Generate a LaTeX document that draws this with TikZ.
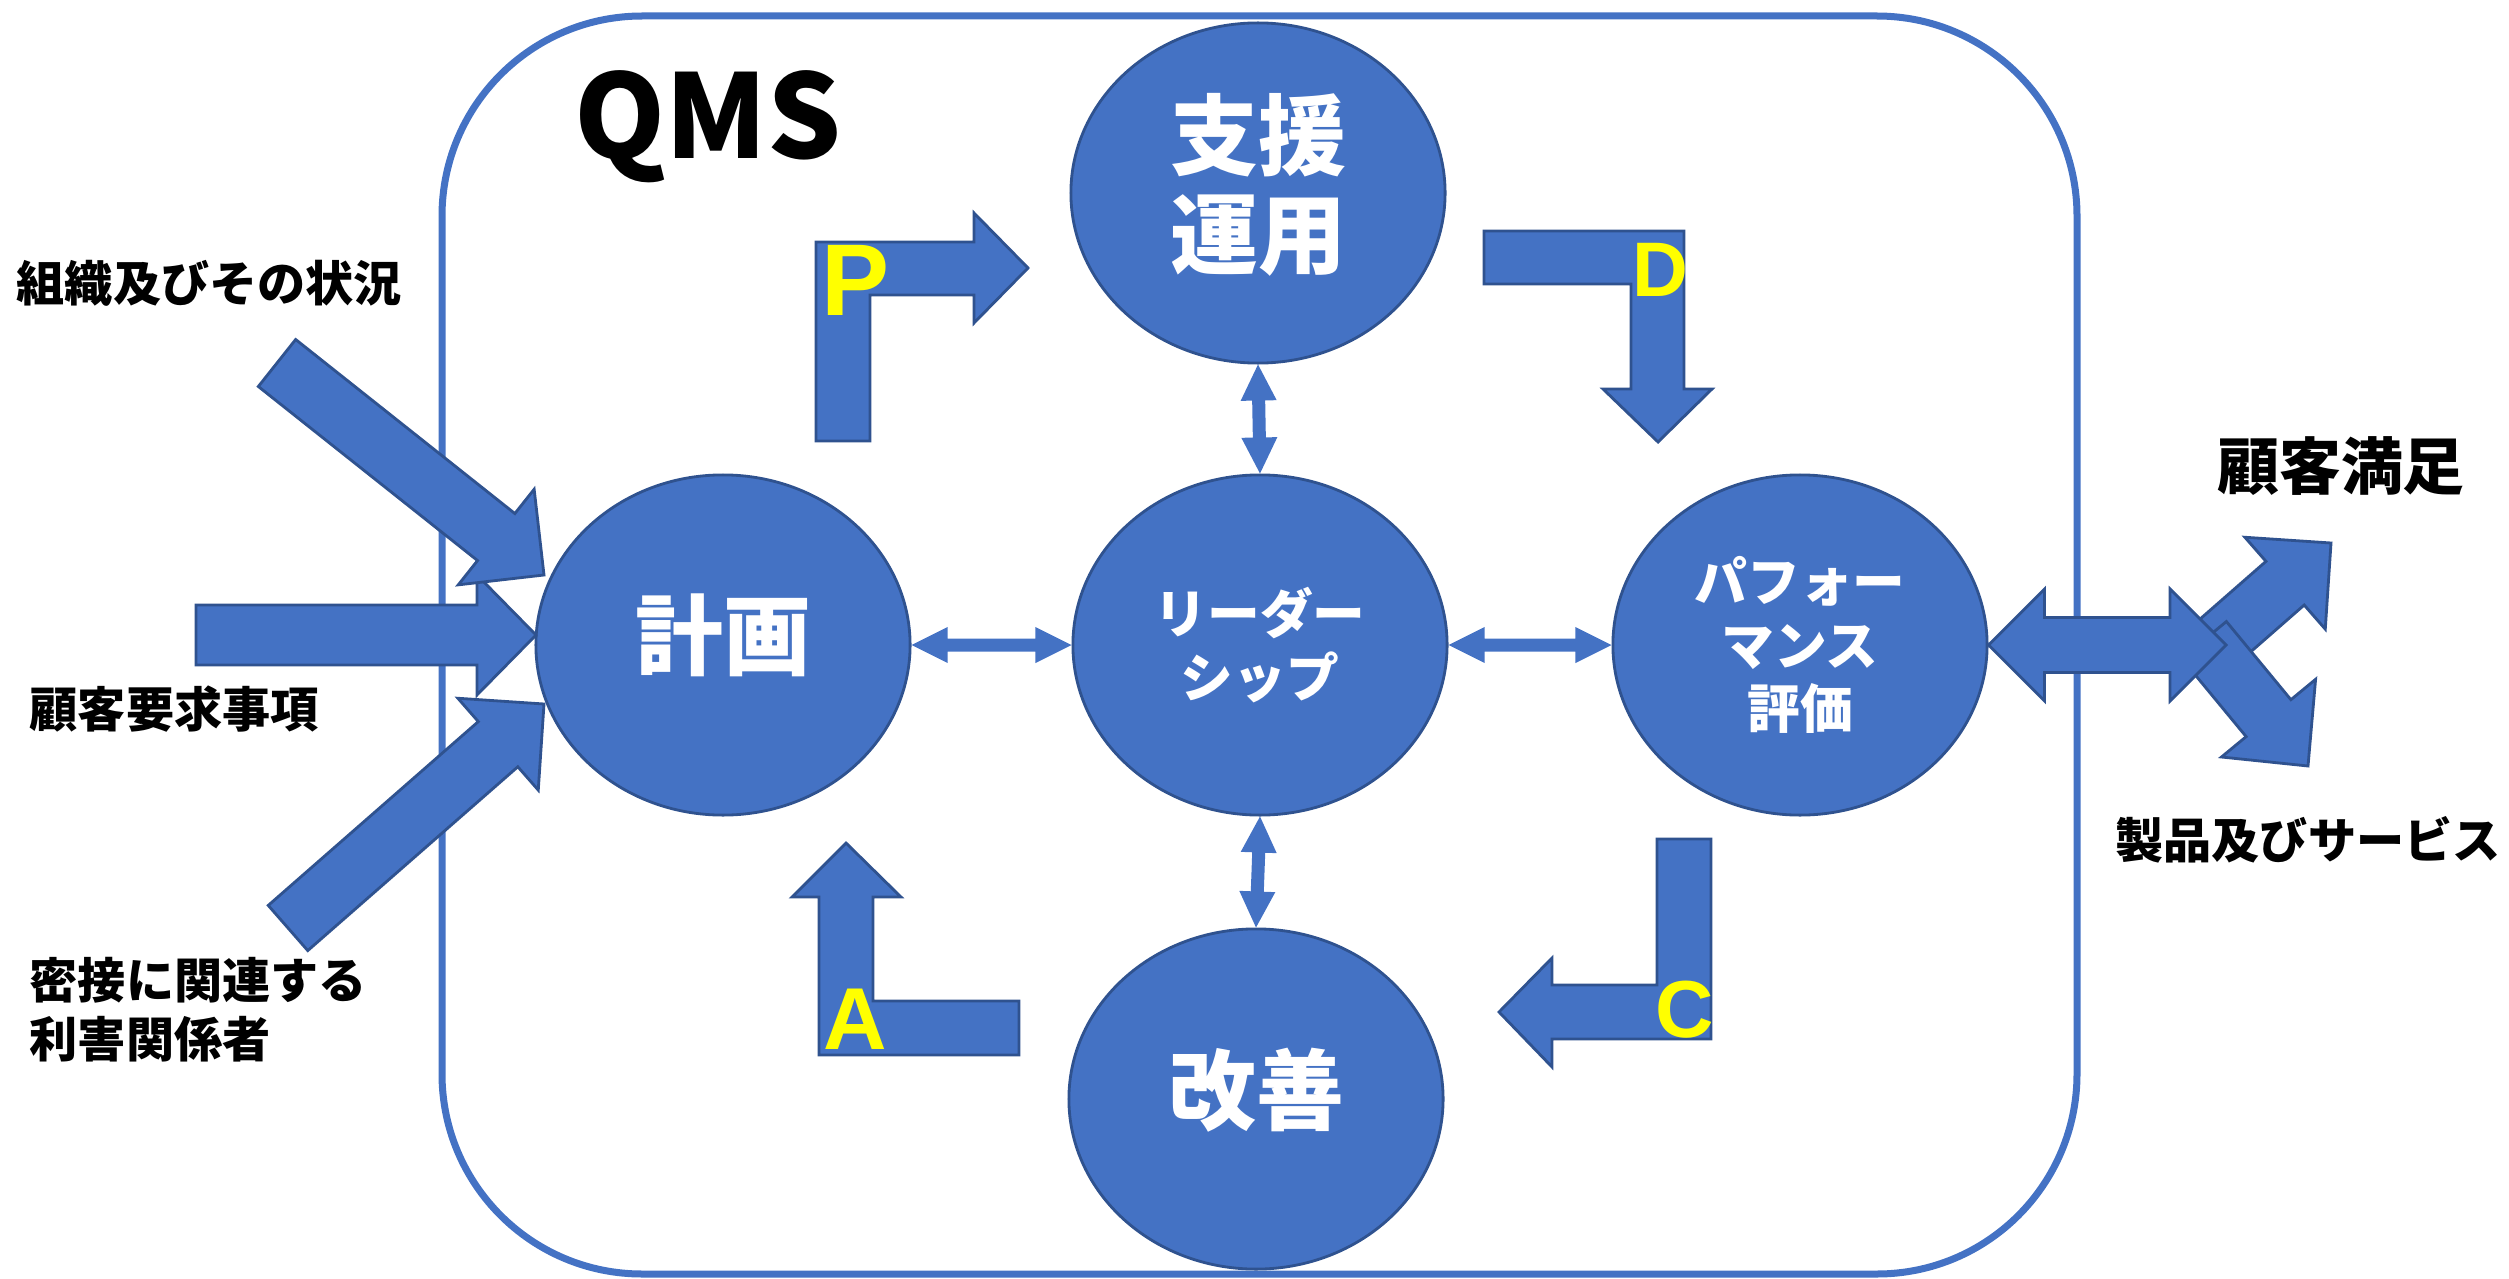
\documentclass[tikz,border=0pt]{standalone}
\usepackage{fontspec}
\newfontfamily\jp{Noto Sans CJK JP}
\newfontfamily\lat{Liberation Sans}
\usetikzlibrary{shapes.geometric,calc}
\definecolor{fillblue}{HTML}{4472C4}
\definecolor{edgeblue}{HTML}{2F528F}
\definecolor{ylw}{HTML}{FFFF00}
\tikzset{
 bubble/.style={ellipse, draw=edgeblue, fill=fillblue, line width=0.8pt,
   minimum width=3.74cm, minimum height=3.4cm, inner sep=0pt, text=white, align=center},
 bigtxt/.style={font={\jp\bfseries\fontsize{25}{28}\selectfont}, text=white, align=center, inner sep=0pt},
 midtxt/.style={font={\jp\bfseries\fontsize{15}{18}\selectfont}},
 blk/.style={draw=edgeblue, fill=fillblue, line width=0.8pt, line join=miter},
 thinarr/.style={fill=fillblue, draw=none},
 lbl/.style={font={\jp\bfseries\fontsize{13.7}{16.8}\selectfont}, text=black, inner sep=0pt, anchor=west, align=left},
 letter/.style={text=ylw, inner sep=0pt},
}
% single-headed block arrow: #1 style, #2 tail, #3 tip, #4 half shaft, #5 half head, #6 head length
\newcommand\blkarrow[6]{%
  \coordinate (ahb) at ($(#3)!#6!(#2)$);
  \path[#1] ($(#2)!#4!90:(#3)$) -- ($(ahb)!#4!90:(#3)$) -- ($(ahb)!#5!90:(#3)$) -- (#3)
     -- ($(ahb)!#5!-90:(#3)$) -- ($(ahb)!#4!-90:(#3)$) -- ($(#2)!#4!-90:(#3)$) -- cycle;
}
% double-headed block arrow
\newcommand\blkdarrow[6]{%
  \coordinate (ahb) at ($(#3)!#6!(#2)$);
  \coordinate (aha) at ($(#2)!#6!(#3)$);
  \path[#1] (#2) -- ($(aha)!#5!90:(#3)$) -- ($(aha)!#4!90:(#3)$) -- ($(ahb)!#4!90:(#3)$)
     -- ($(ahb)!#5!90:(#3)$) -- (#3) -- ($(ahb)!#5!-90:(#3)$) -- ($(ahb)!#4!-90:(#3)$)
     -- ($(aha)!#4!-90:(#3)$) -- ($(aha)!#5!-90:(#3)$) -- cycle;
}
\begin{document}
\begin{tikzpicture}[x=0.01cm,y=-0.01cm]
\useasboundingbox (0,0) rectangle (2509,1279);
% QMS frame
\draw[fillblue, line width=0.07cm, rounded corners=2cm] (442,16) rectangle (2077,1274);
\node[font={\jp\bfseries\fontsize{33}{33}\selectfont}, inner sep=0pt] (qms) at (708,127) {QMS};

% bubbles
\node[bubble] (shien) at (1258,193) {};
\node[bigtxt] (shien-t) at ($(shien.center)+(0,-8)$) {支援\\運用};
\node[bubble] (keikaku) at (723,645) {};
\node[bigtxt] (keikaku-t) at ($(keikaku.center)+(0,-10)$) {計画};
\node[bubble, midtxt] (lead) at (1260,645) {リーダー\\シップ};
\node[bubble, midtxt] (perf) at (1800,645) {パフォー\\マンス\\評価};
\node[bubble] (kaizen) at (1256,1099) {};
\node[bigtxt] (kaizen-t) at ($(kaizen.center)+(0,-9)$) {改善};

% thin double arrows
\blkdarrow{thinarr}{lead.north}{shien.south}{0.065cm}{0.18cm}{0.36cm}
\blkdarrow{thinarr}{lead.south}{kaizen.north}{0.065cm}{0.18cm}{0.36cm}
\blkdarrow{thinarr}{keikaku.east}{lead.west}{0.065cm}{0.18cm}{0.36cm}
\blkdarrow{thinarr}{lead.east}{perf.west}{0.065cm}{0.18cm}{0.36cm}

% input arrows
\coordinate (in1t) at (277,363);
\coordinate (in1h) at (544,575);
\coordinate (in2t) at (196,635);
\coordinate (in2h) at (536,635);
\coordinate (in3t) at (288,928);
\coordinate (in3h) at (544,704);
\blkarrow{blk}{in2t}{in2h}{0.30cm}{0.60cm}{0.59cm}
\blkarrow{blk}{in1t}{in1h}{0.30cm}{0.61cm}{0.61cm}
\blkarrow{blk}{in3t}{in3h}{0.30cm}{0.61cm}{0.61cm}

% output arrows
\coordinate (ur) at (2331,543);
\coordinate (urt) at (2203,655);
\coordinate (dr) at (2308,766);
\coordinate (drt) at (2204,640);
\coordinate (outtip) at (2226,645);
\blkarrow{blk}{urt}{ur}{0.29cm}{0.61cm}{0.61cm}
\blkarrow{blk}{drt}{dr}{0.29cm}{0.61cm}{0.62cm}
\blkdarrow{blk}{perf.east}{outtip}{0.275cm}{0.56cm}{0.56cm}

% PDCA bent arrows
\path[blk] (816,441) -- (816,242) -- (974,242) -- (974,213) -- (1028,268) -- (974,323) -- (974,295) -- (870,295) -- (870,441) -- cycle;
\path[blk] (1484,231) -- (1684,231) -- (1684,389) -- (1712,389) -- (1658,442) -- (1603,389) -- (1631,389) -- (1631,284) -- (1484,284) -- cycle;
\path[blk] (1019,1055) -- (819,1055) -- (819,897) -- (792,897) -- (846,843) -- (901,897) -- (873,897) -- (873,1001) -- (1019,1001) -- cycle;
\path[blk] (1657,839) -- (1711,839) -- (1711,1039) -- (1552,1039) -- (1552,1067) -- (1499,1012) -- (1552,958) -- (1552,985) -- (1657,985) -- cycle;

\node[letter, font={\lat\bfseries\fontsize{29}{29}\selectfont}] (lp) at (855,280) {P};
\node[letter, font={\lat\bfseries\fontsize{22}{22}\selectfont}] (ld) at (1660,270) {D};
\node[letter, font={\lat\bfseries\fontsize{25}{25}\selectfont}] (la) at (855,1019) {A};
\node[letter, font={\lat\bfseries\fontsize{23}{23}\selectfont}] (lc) at (1685,1010) {C};

% labels
\node[lbl] (org) at (16,283) {組織及びその状況};
\node[lbl] (req) at (29,709) {顧客要求事項};
\node[lbl] (party) at (29,1010) {密接に関連する\\利害関係者};
\node[font={\jp\bfseries\fontsize{17.6}{17.6}\selectfont}, inner sep=0pt] (sat) at (2341,466) {顧客満足};
\node[font={\jp\bfseries\fontsize{13.7}{13.7}\selectfont}, inner sep=0pt] (prod) at (2308,840) {製品及びサービス};
\end{tikzpicture}
\end{document}
